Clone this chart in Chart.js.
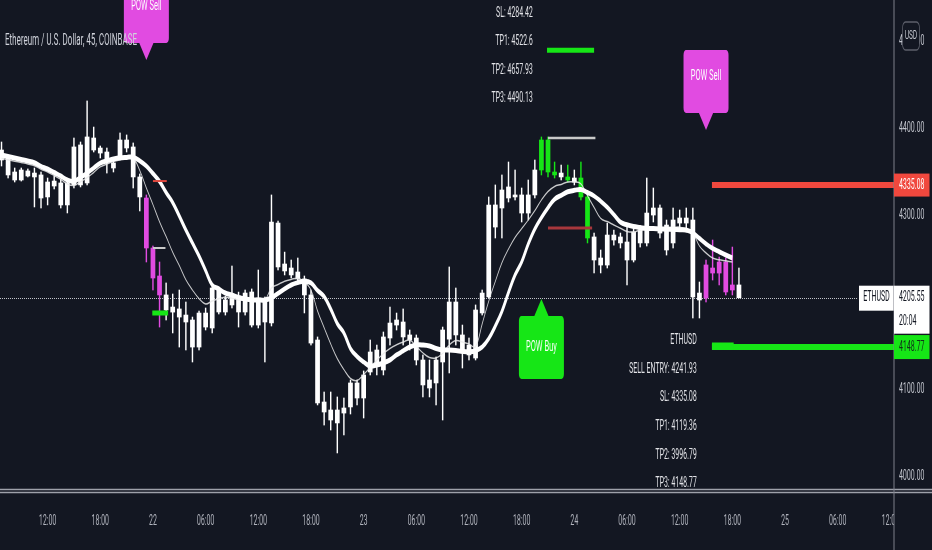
<!DOCTYPE html>
<html>
<head>
<meta charset="utf-8">
<title>Ethereum / U.S. Dollar, 45, COINBASE</title>
<script src="https://cdn.jsdelivr.net/npm/chart.js@4.4.1/dist/chart.umd.min.js"></script>
<style>
html,body{margin:0;padding:0;background:#131722;width:932px;height:550px;overflow:hidden;}
#c{display:block;width:932px;height:550px;}
</style>
</head>
<body>
<canvas id="c" width="1864" height="550" style="width:932px;height:550px"></canvas>
<script>
// ---------------- DATA ----------------
const timeLabels = ['12:00','18:00','22','06:00','12:00','18:00','23','06:00','12:00','18:00','24','06:00','12:00','18:00','25','06:00','12:00'];
const tickBars = [7,15,23,31,39,47,55,63,71,79,87,95,103,111,119,127,135];
const yTickValues = [4000,4100,4200,4300,4400,4500];

const openP = [4375.4,4366.2,4350.1,4340.9,4345.5,4348.9,4346.7,4338.6,4334.0,4337.5,
4312.2,4335.2,4335.2,4337.5,4375.4,4377.7,4373.1,4360.5,4366.2,4377.7,
4378.9,4344.4,4320.2,4262.7,4230.5,4208.7,4194.8,4192.6,4185.6,4179.9,
4148.8,4171.8,4170.7,4189.1,4203.0,4197.2,4207.5,4189.1,4212.1,4174.1,
4202.9,4176.5,4291.4,4244.3,4239.7,4235.1,4227.1,4208.7,4156.9,4085.6,
4076.4,4061.5,4072.9,4079.9,4107.5,4090.2,4120.1,4145.4,4122.4,4159.2,
4174.1,4177.6,4162.7,4159.2,4133.9,4110.9,4107.5,4131.6,4157.9,4200.6,
4162.7,4151.1,4136.2,4188.0,4206.4,4312.2,4308.7,4320.2,4323.7,4323.7,
4302.9,4323.7,4352.4,4386.9,4350.1,4348.9,4344.4,4343.2,4343.2,4321.4,
4275.4,4251.2,4243.1,4277.6,4275.4,4269.6,4248.9,4268.5,4268.5,4300.6,
4308.7,4289.1,4268.5,4291.4,4297.2,4294.9,4210.9,4205.2,4239.7,4233.9,
4246.6,4214.4,4220.2];
const highP = [4384.6,4367.5,4354.7,4354.7,4353.6,4354.7,4350.1,4343.2,4345.5,4342.0,
4340.9,4389.2,4384.6,4431.8,4401.8,4380.0,4377.7,4363.9,4395.0,4392.7,
4383.5,4347.8,4323.7,4265.0,4246.6,4222.5,4209.8,4214.4,4200.6,4183.3,
4190.2,4193.7,4220.2,4217.9,4207.5,4242.0,4212.0,4214.4,4215.6,4237.4,
4206.4,4323.7,4293.7,4258.0,4248.9,4251.2,4230.5,4214.4,4160.4,4097.1,
4097.1,4091.4,4090.2,4110.9,4110.9,4121.3,4156.9,4151.1,4166.1,4194.8,
4187.9,4192.6,4168.4,4162.7,4139.7,4133.9,4137.4,4171.8,4240.9,4216.7,
4174.1,4159.2,4197.2,4214.4,4321.4,4335.2,4346.7,4361.6,4352.4,4331.7,
4340.9,4363.9,4390.4,4390.4,4361.6,4358.1,4358.1,4352.4,4361.6,4323.7,
4279.9,4260.4,4291.4,4283.3,4279.9,4289.1,4285.6,4288.0,4343.2,4331.7,
4312.2,4294.9,4308.7,4306.4,4308.7,4308.7,4223.6,4248.9,4271.9,4252.3,
4251.2,4263.8,4239.7];
const lowP = [4357.0,4343.2,4338.6,4339.7,4344.4,4309.9,4308.7,4312.2,4330.6,4308.7,
4303.0,4331.7,4332.9,4335.2,4373.1,4366.2,4348.9,4350.1,4363.9,4373.1,
4331.7,4305.3,4246.6,4214.4,4171.8,4179.9,4165.0,4148.8,4145.4,4131.6,
4145.4,4168.4,4165.0,4186.8,4185.6,4193.7,4171.8,4185.6,4171.8,4170.7,
4131.6,4173.0,4237.4,4231.7,4228.2,4221.3,4188.0,4151.1,4082.2,4059.1,
4053.4,4027.0,4047.7,4071.8,4082.2,4067.2,4116.7,4116.7,4116.7,4151.1,
4168.4,4151.1,4145.4,4128.2,4091.4,4091.4,4082.2,4064.9,4119.0,4151.1,
4124.7,4133.9,4133.9,4185.6,4205.2,4274.2,4274.2,4315.6,4317.9,4292.6,
4294.9,4320.2,4346.7,4344.4,4343.2,4340.9,4338.6,4335.2,4317.9,4268.5,
4234.0,4234.0,4239.7,4266.0,4262.7,4220.2,4246.6,4263.8,4265.0,4292.6,
4274.2,4254.6,4262.7,4283.3,4281.0,4182.2,4182.2,4200.6,4225.9,4220.2,
4208.7,4208.7,4205.2];
const closeP = [4363.9,4346.7,4340.9,4352.4,4351.3,4344.4,4320.2,4321.4,4339.7,4312.2,
4337.5,4378.9,4381.2,4390.4,4389.2,4371.9,4363.9,4354.7,4386.9,4386.9,
4344.4,4321.4,4262.7,4228.2,4208.7,4191.4,4189.0,4183.3,4177.6,4148.8,
4187.9,4187.9,4216.7,4214.4,4189.1,4206.4,4189.1,4210.9,4174.1,4205.2,
4177.6,4292.6,4240.9,4236.3,4231.7,4227.1,4208.7,4153.4,4084.5,4074.1,
4064.9,4076.4,4078.7,4107.5,4090.2,4116.7,4143.1,4129.4,4160.4,4176.4,
4179.9,4160.4,4156.9,4133.9,4105.2,4101.7,4133.9,4168.4,4200.6,4162.7,
4145.4,4139.7,4191.4,4210.9,4312.2,4286.8,4329.4,4332.9,4321.4,4302.9,
4323.7,4352.4,4386.9,4350.1,4346.7,4344.4,4340.9,4338.6,4321.4,4274.2,
4248.9,4243.1,4277.6,4271.9,4268.5,4248.9,4281.0,4283.3,4302.9,4308.7,
4279.9,4260.4,4294.9,4297.2,4291.4,4206.4,4202.9,4243.2,4233.9,4246.6,
4212.1,4220.2,4205.55];

const maSlow = [4369.6,4367.9,4366.2,4364.5,4362.8,4360.8,4356.6,4353.6,4349.5,4345.5,
4340.9,4339.3,4344.0,4348.9,4354.7,4360.4,4362.8,4365.0,4366.4,4366.9,
4367.2,4363.0,4357.0,4348.4,4339.3,4326.5,4315.0,4299.5,4283.4,4268.4,
4253.5,4236.7,4220.2,4215.6,4211.0,4208.7,4205.8,4204.0,4202.9,4202.9,
4202.9,4205.5,4210.6,4215.6,4220.2,4222.9,4224.4,4222.5,4213.8,4206.9,
4192.6,4175.8,4165.0,4147.1,4137.9,4131.6,4127.0,4128.2,4130.5,4133.9,
4139.7,4144.3,4148.8,4151.1,4151.1,4150.0,4147.1,4145.4,4145.4,4144.9,
4143.8,4143.4,4144.6,4148.8,4158.5,4173.0,4189.7,4211.5,4231.7,4246.6,
4267.3,4284.6,4297.6,4309.0,4318.7,4323.2,4327.3,4329.0,4330.0,4326.5,
4322.5,4316.5,4309.5,4301.1,4292.4,4289.4,4287.3,4286.2,4285.2,4285.0,
4284.6,4284.3,4284.0,4283.8,4283.4,4280.0,4273.7,4267.5,4262.2,4258.4,
4254.7,4251.2];
const maFast = [4366.0,4364.3,4362.6,4361.0,4359.3,4357.3,4353.3,4350.1,4346.0,4341.6,
4336.3,4334.6,4338.9,4343.5,4349.6,4356.0,4359.2,4362.1,4364.3,4365.3,
4366.2,4351.7,4331.7,4312.6,4292.9,4275.8,4257.8,4242.5,4226.2,4214.4,
4204.5,4198.3,4201.7,4204.3,4206.0,4205.1,4203.2,4202.9,4202.9,4202.9,
4202.9,4216.7,4220.7,4224.5,4226.6,4227.9,4223.8,4214.4,4190.3,4171.0,
4152.3,4135.5,4123.0,4112.6,4110.4,4117.1,4125.4,4133.6,4141.3,4147.2,
4151.4,4154.6,4156.8,4149.7,4142.1,4136.7,4136.3,4141.5,4151.2,4156.2,
4154.7,4152.2,4149.3,4175.3,4201.7,4224.3,4245.8,4261.5,4275.0,4284.9,
4294.9,4305.6,4317.9,4327.7,4333.5,4335.8,4338.6,4338.6,4336.5,4322.9,
4309.4,4296.7,4293.1,4289.2,4285.4,4281.7,4281.1,4283.4,4284.2,4284.9,
4285.7,4286.0,4286.3,4286.7,4284.6,4280.2,4265.0,4257.0,4251.1,4249.1,
4247.9,4246.6];

const sellBars = [22,23,24,107,108,109,110,111];
const buyBars = [82,83,84,86,88,89];

const lastPrice = 4205.55;
const countdownText = '20:04';
const symbolText = 'ETHUSD';
const titleText = 'Ethereum / U.S. Dollar, 45, COINBASE';
const slLevel = 4335.08;
const tp3Level = 4148.77;

const buyInfoLines = ['SL: 4284.42','TP1: 4522.6','TP2: 4657.93','TP3: 4490.13'];
const sellInfoLines = ['ETHUSD','SELL ENTRY: 4241.93','SL: 4335.08','TP1: 4119.36','TP2: 3996.79','TP3: 4148.77'];

// ---------------- LAYOUT / STYLE ----------------
const CW = 1864, CH = 550;
const SX = CW / 932;              // logical px per screen px (horizontal)
const BG = '#131722';
const MAGENTA = '#e14be1';
const GREEN = '#16e616';
const WHITE = '#ffffff';
const FONT = 'Roboto, "Open Sans", sans-serif';

const signalLabels = [
  {text:'POW Sell', bar:22, tip:4478.9, dir:'down', color:MAGENTA},
  {text:'POW Sell', bar:107, tip:4398.4, dir:'down', color:MAGENTA},
  {text:'POW Buy', bar:82, tip:4204.0, dir:'up', color:GREEN}
];
const levelSegments = [
  {from:23.0, to:25.1, price:4339.7, color:'#e2493f', width:2},
  {from:23.0, to:24.9, price:4262.7, color:'#c9c9c9', width:2},
  {from:22.9, to:25.3, price:4187.9, color:GREEN, width:5},
  {from:83.0, to:90.2, price:4389.2, color:'#c9c9c9', width:2.5},
  {from:83.0, to:89.7, price:4285.7, color:'#a8373c', width:3},
  {from:82.85, to:90.0, price:4490.13, color:GREEN, width:5},
  {from:107.9, to:null, price:slLevel, color:'#f0483e', width:6},
  {from:107.9, to:null, price:tp3Level, color:GREEN, width:6},
  {from:107.9, to:111.2, price:4150.0, color:GREEN, width:7}
];
const textBlocks = [
  {lines:buyInfoLines, rightBar:80.7, firstPrice:4532.9},
  {lines:sellInfoLines, rightBar:105.6, firstPrice:4156.1}
];

const colorFor = i => sellBars.includes(i) ? MAGENTA : (buyBars.includes(i) ? GREEN : WHITE);

const bodies = openP.map((o, i) => ({x: i, y: [o, closeP[i]]}));
const wicks = openP.map((o, i) => ({x: i, y: [lowP[i], highP[i]]}));
const barColors = openP.map((o, i) => colorFor(i));

function roundRect(ctx, x, y, w, h, r) {
  ctx.beginPath();
  ctx.moveTo(x + r, y);
  ctx.arcTo(x + w, y, x + w, y + h, r);
  ctx.arcTo(x + w, y + h, x, y + h, r);
  ctx.arcTo(x, y + h, x, y, r);
  ctx.arcTo(x, y, x + w, y, r);
  ctx.closePath();
}

const overlay = {
  id: 'tvOverlay',
  beforeDraw(chart) {
    const ctx = chart.ctx;
    ctx.save(); ctx.fillStyle = BG; ctx.fillRect(0, 0, CW, CH); ctx.restore();
  },
  beforeDatasetsDraw(chart) {
    const {ctx, chartArea: a, scales: {y: ys}} = chart;
    const y = Math.round(ys.getPixelForValue(lastPrice)) + 0.5;
    ctx.save();
    ctx.strokeStyle = 'rgba(225,227,232,0.85)';
    ctx.lineWidth = 1;
    ctx.setLineDash([2, 2]);
    ctx.beginPath(); ctx.moveTo(a.left, y); ctx.lineTo(858 * SX, y); ctx.stroke();
    ctx.restore();
  },
  afterDatasetsDraw(chart) {
    const {ctx, chartArea: a, scales: {x: xs, y: ys}} = chart;
    const px = v => xs.getPixelForValue(v), py = v => ys.getPixelForValue(v);
    ctx.save();
    ctx.beginPath(); ctx.rect(a.left, a.top, a.right - a.left, a.bottom - a.top - 3); ctx.clip();
    // level segments
    levelSegments.forEach(s => {
      ctx.strokeStyle = s.color; ctx.lineWidth = s.width;
      const y = py(s.price);
      ctx.beginPath(); ctx.moveTo(px(s.from), y); ctx.lineTo(s.to === null ? a.right : px(s.to), y); ctx.stroke();
    });
    // signal labels
    signalLabels.forEach(s => {
      const cx = px(s.bar), tip = py(s.tip);
      const bw = 45 * SX, bh = 63, pw = 15 * SX, ph = 17;
      const top = s.dir === 'down' ? tip - ph - bh : tip + ph;
      ctx.fillStyle = s.color;
      roundRect(ctx, cx - bw / 2, top, bw, bh, 5); ctx.fill();
      ctx.beginPath();
      if (s.dir === 'down') { ctx.moveTo(cx - pw / 2, top + bh - 1); ctx.lineTo(cx + pw / 2, top + bh - 1); }
      else { ctx.moveTo(cx - pw / 2, top + 1); ctx.lineTo(cx + pw / 2, top + 1); }
      ctx.lineTo(cx, tip); ctx.closePath(); ctx.fill();
      ctx.fillStyle = '#ffffff'; ctx.font = '15px ' + FONT;
      ctx.textAlign = 'center'; ctx.textBaseline = 'middle';
      ctx.fillText(s.text, cx, s.dir === 'down' ? top + 26 : top + bh / 2);
    });
    // info text blocks
    ctx.fillStyle = '#e3e4e8'; ctx.font = '14px ' + FONT;
    ctx.textAlign = 'right'; ctx.textBaseline = 'middle';
    textBlocks.forEach(b => {
      const x = px(b.rightBar), y0 = py(b.firstPrice);
      b.lines.forEach((t, i) => ctx.fillText(t, x, y0 + i * 28.6));
    });
    // title
    ctx.fillStyle = '#d1d4dc'; ctx.font = '16px ' + FONT; ctx.textAlign = 'left';
    ctx.fillText(titleText, 5 * SX, 41);
    ctx.restore();
  },
  afterDraw(chart) {
    const {ctx, chartArea: a, scales: {y: ys}} = chart;
    const py = v => ys.getPixelForValue(v);
    const R = a.right;
    ctx.save();
    // clip overflow in bottom-right corner
    ctx.fillStyle = BG; ctx.fillRect(R + 1, a.bottom, CW - R, CH - a.bottom);
    // bottom pane border (double line)
    ctx.strokeStyle = '#9ea1aa'; ctx.lineWidth = 1.5;
    [489.5, 492.5].forEach(y => { ctx.beginPath(); ctx.moveTo(0, y); ctx.lineTo(CW, y); ctx.stroke(); });
    // right axis border
    ctx.strokeStyle = '#7d808a'; ctx.lineWidth = 2;
    ctx.beginPath(); ctx.moveTo(R, 0); ctx.lineTo(R, CH); ctx.stroke();

    const lblX = R + 10;
    ctx.font = '14px ' + FONT; ctx.textBaseline = 'middle'; ctx.textAlign = 'left';
    const bw = 35.5 * SX;
    // SL price box
    let y = py(slLevel);
    ctx.fillStyle = '#f0483e'; ctx.fillRect(R, y - 11.5, bw, 23);
    ctx.fillStyle = '#ffffff'; ctx.fillText(slLevel.toFixed(2), lblX, y);
    // last price box
    y = py(lastPrice);
    ctx.fillStyle = '#ffffff'; ctx.fillRect(R, y - 12, bw, 48);
    ctx.fillStyle = '#131722'; ctx.fillText(lastPrice.toFixed(2), lblX, y);
    ctx.fillText(countdownText, lblX, y + 24);
    // symbol box
    ctx.fillStyle = '#ffffff'; ctx.fillRect(859 * SX, y - 12, R - 859 * SX - 1, 25);
    ctx.fillStyle = '#131722'; ctx.textAlign = 'center';
    ctx.fillText(symbolText, (859 * SX + R) / 2, y);
    // TP3 box
    y = py(tp3Level);
    ctx.fillStyle = GREEN; ctx.fillRect(R, y - 12, bw, 24);
    ctx.fillStyle = '#10331a'; ctx.textAlign = 'left';
    ctx.fillText(tp3Level.toFixed(2), lblX, y);
    // currency box
    const ux = 902.5 * SX, uw = 17 * SX, uy = 22, uh = 28;
    ctx.fillStyle = BG; roundRect(ctx, ux, uy, uw, uh, 6); ctx.fill();
    ctx.strokeStyle = '#5d606b'; ctx.lineWidth = 1.5; ctx.stroke();
    ctx.fillStyle = '#c3c6ce'; ctx.font = '13px ' + FONT; ctx.textAlign = 'center';
    ctx.fillText('USD', ux + uw / 2, uy + uh / 2);
    ctx.restore();
  }
};

new Chart(document.getElementById('c'), {
  type: 'bar',
  data: {
    datasets: [
      {type:'line', label:'MA slow', data: maSlow.map((v, i) => ({x: i, y: v})), borderColor:'#ffffff', borderWidth:5,
       pointRadius:0, tension:0.4, order:0},
      {type:'line', label:'MA fast', data: maFast.map((v, i) => ({x: i, y: v})), borderColor:'rgba(235,235,235,0.85)', borderWidth:1.5,
       pointRadius:0, tension:0.4, order:1},
      {label:'body', data: bodies, backgroundColor: barColors, borderWidth:0, barThickness:8.8, grouped:false, order:2},
      {label:'wick', data: wicks, backgroundColor: barColors, borderWidth:0, barThickness:2.2, grouped:false, order:3}
    ]
  },
  options: {
    responsive: false,
    devicePixelRatio: 1,
    animation: false,
    events: [],
    layout: {padding: 0, autoPadding: false},
    plugins: {legend: {display: false}, tooltip: {enabled: false}},
    scales: {
      x: {
        type: 'linear', position: 'bottom', min: -0.23, max: 135.55, offset: false,
        grid: {display: false, drawTicks: false}, border: {display: false},
        afterBuildTicks: s => { s.ticks = tickBars.map(v => ({value: v})); },
        afterFit: s => { s.height = 60; s.paddingLeft = 0; s.paddingRight = 0; },
        ticks: {autoSkip: false, maxRotation: 0, minRotation: 0, padding: 23, color: '#b2b5be',
                font: {size: 14, family: FONT}, callback: (v, i) => timeLabels[i]}
      },
      y: {
        type: 'linear', position: 'right', min: 3984.4, max: 4547.9,
        grid: {display: false, drawTicks: false}, border: {display: false},
        afterBuildTicks: s => { s.ticks = yTickValues.map(v => ({value: v})); },
        afterFit: s => { s.width = CW - 894 * SX; s.paddingTop = 0; s.paddingBottom = 0; },
        ticks: {autoSkip: false, padding: 10, color: '#c3c6ce', font: {size: 14, family: FONT},
                callback: v => Number(v).toFixed(2)}
      }
    }
  },
  plugins: [overlay]
});
</script>
</body>
</html>
